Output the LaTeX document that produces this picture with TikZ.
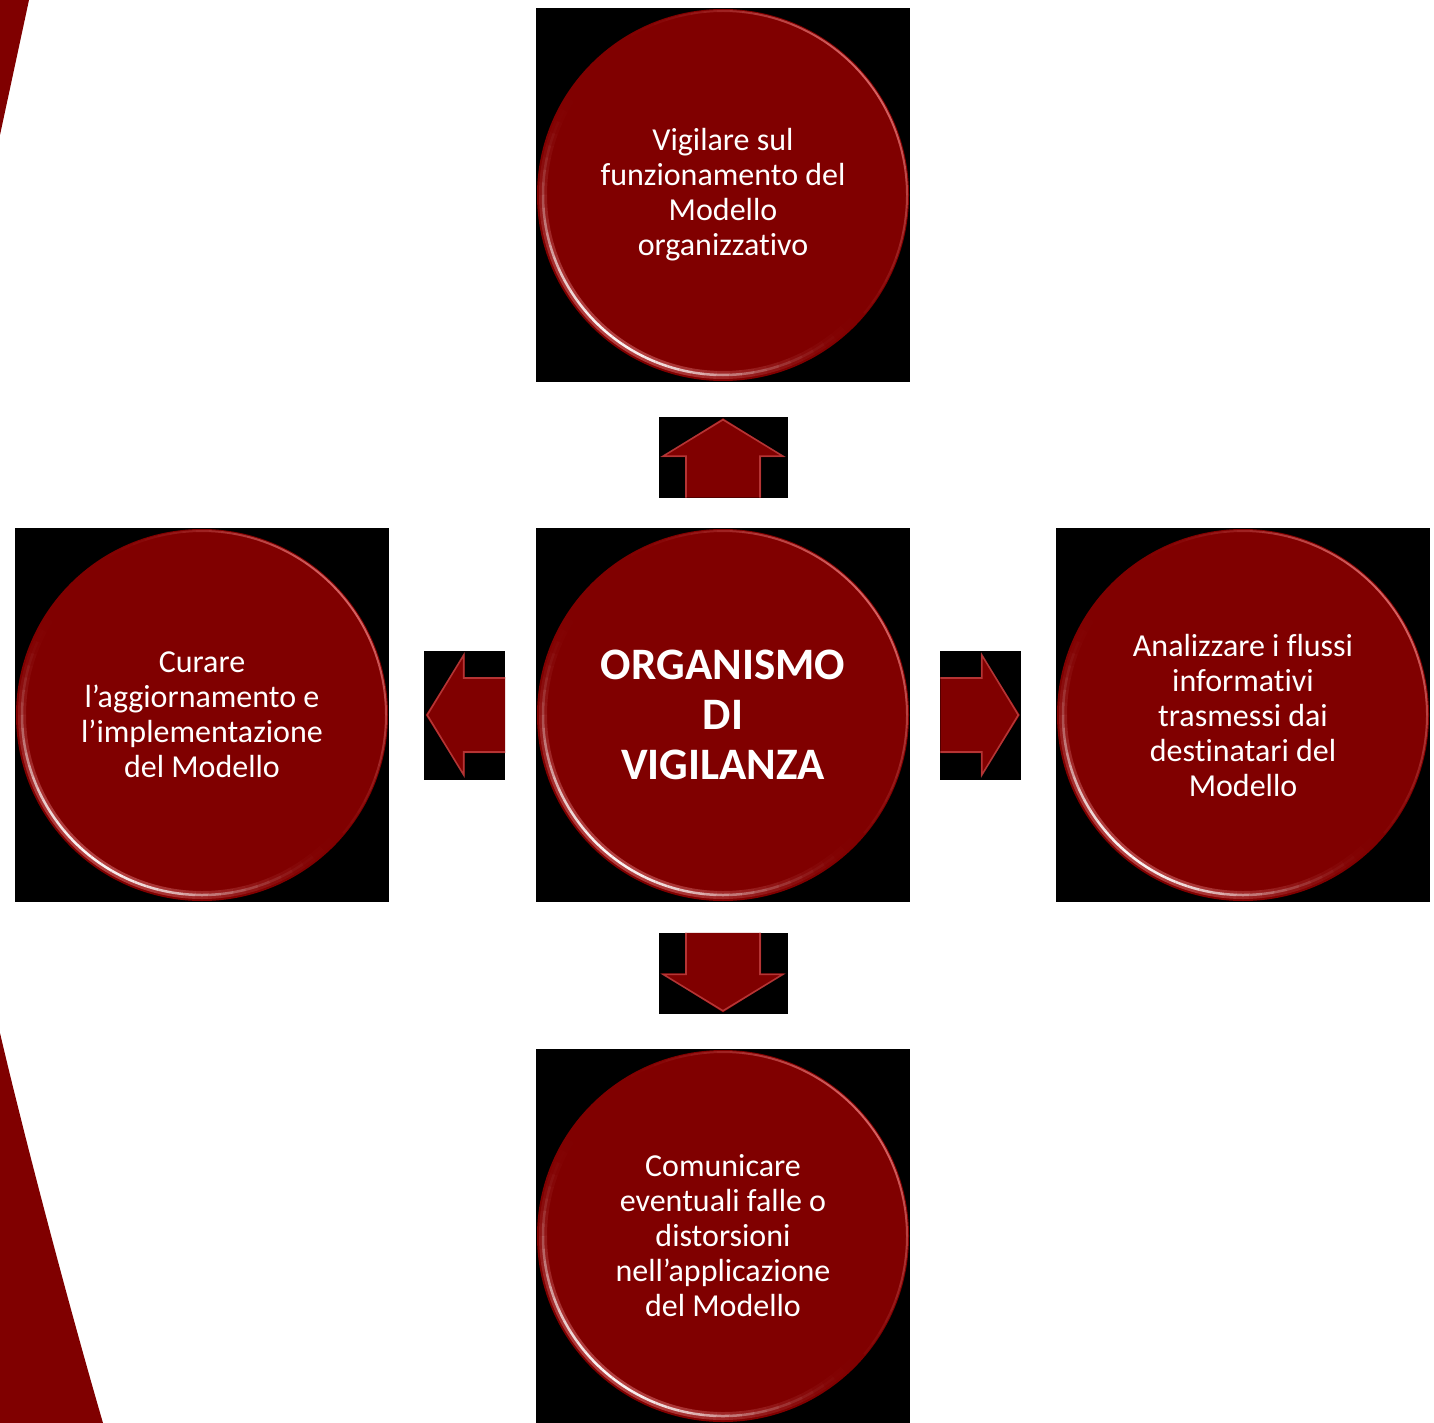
\documentclass[tikz,border=0pt]{standalone}
\usepackage{fontspec}
\setmainfont{Carlito}[Ligatures=NoCommon]
\usetikzlibrary{calc}
\definecolor{wine}{RGB}{128,0,0}
\definecolor{rim}{RGB}{235,120,120}
\definecolor{glow}{RGB}{240,140,140}
\definecolor{bevel}{RGB}{200,70,70}
\tikzset{
  plate/.style={rectangle, fill=black, minimum size=374pt, inner sep=0pt},
  disc/.style={circle, fill=wine, minimum size=372pt, inner sep=0pt, text=white,
    align=center, font=\fontsize{32}{35}\selectfont},
  core/.style={disc, font=\bfseries\fontsize{45}{50}\selectfont},
  blockarrow/.pic={
    \fill[black] (-40.5,-64.5) rectangle (40.5,64.5);
    \fill[wine] (-40.5,-38) -- (0,-38) -- (0,-62) -- (39,0) -- (0,62) -- (0,38) -- (-40.5,38) -- cycle;
    \draw[bevel, opacity=0.75, line width=1.6pt, line join=miter]
      (-40.5,-37) -- (1,-37) -- (1,-60) -- (37.5,0) -- (1,60) -- (1,37) -- (-40.5,37);
  }
}
% glossy rim: bright glow on the lower left, thin light edge on the upper right
\newcommand\gloss[1]{%
  \foreach \a in {128,132,...,324}{%
    \pgfmathsetmacro\opa{0.95*max(0,cos(\a-230))^3}
    \pgfmathsetmacro\opb{0.45*max(0,cos(\a-230))^2}
    \draw[glow, opacity=\opb, line width=8pt] ($(#1.center)+(\a:180)$) arc[start angle=\a, end angle=\a+4, radius=180];
    \draw[white, opacity=\opa, line width=2.5pt] ($(#1.center)+(\a:180)$) arc[start angle=\a, end angle=\a+4, radius=180];
  }
  \foreach \a in {-40,-36,...,128}{%
    \pgfmathsetmacro\opc{0.8*max(0,cos(\a-35))^2}
    \draw[rim, opacity=\opc, line width=2pt] ($(#1.center)+(\a:184)$) arc[start angle=\a, end angle=\a+4, radius=184];
  }
}
\begin{document}
\begin{tikzpicture}[x=1pt, y=1pt]
  \useasboundingbox (0,0) rectangle (1434,-1423);
  \fill[white] (0,0) rectangle (1434,-1423);

  % decorative swoosh on the left edge
  \fill[wine] (0,0) -- (29,0) -- (0,-135) -- cycle;
  \fill[wine] (0,-1033) .. controls (25,-1140) and (70,-1310) .. (103,-1423) -- (0,-1423) -- cycle;

  % black plates
  \node[plate] (topbox)    at (723,-195)  {};
  \node[plate] (centerbox) at (723,-715)  {};
  \node[plate] (leftbox)   at (202,-715)  {};
  \node[plate] (rightbox)  at (1243,-715) {};
  \node[plate] (bottombox) at (723,-1236) {};

  % discs
  \node[disc] (top) at (topbox.center)
    {Vigilare sul\\funzionamento del\\Modello\\organizzativo};
  \node[core] (center) at (centerbox.center) {ORGANISMO\\DI\\VIGILANZA};
  \node[disc] (left) at (leftbox.center)
    {Curare\\l’aggiornamento e\\l’implementazione\\del Modello};
  \node[disc] (right) at (rightbox.center)
    {Analizzare i flussi\\informativi\\trasmessi dai\\destinatari del\\Modello};
  \node[disc] (bottom) at (bottombox.center)
    {Comunicare\\eventuali falle o\\distorsioni\\nell’applicazione\\del Modello};

  \gloss{top}
  \gloss{center}
  \gloss{left}
  \gloss{right}
  \gloss{bottom}

  % block arrows from the centre outwards
  \pic[rotate=90]  at ($(centerbox.north)!0.485!(topbox.south)$)    {blockarrow};
  \pic[rotate=-90] at ($(centerbox.south)!0.485!(bottombox.north)$) {blockarrow};
  \pic[rotate=180] at ($(centerbox.west)!0.485!(leftbox.east)$)     {blockarrow};
  \pic             at ($(centerbox.east)!0.485!(rightbox.west)$)    {blockarrow};
\end{tikzpicture}
\end{document}
